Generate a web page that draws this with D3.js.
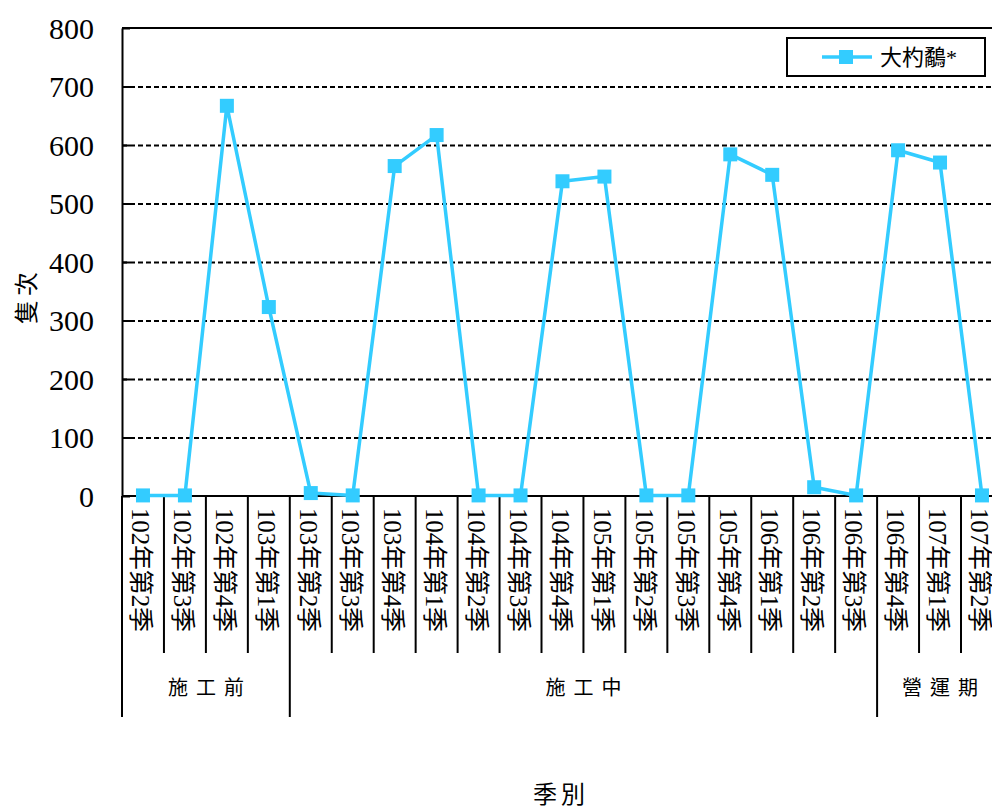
<!DOCTYPE html>
<html><head><meta charset="utf-8">
<script src="https://cdn.jsdelivr.net/npm/d3@7"></script>
<style>
body{margin:0;background:#fff;}
svg{display:block;}
.serif{font-family:"Liberation Serif","Tinos","Times New Roman","DejaVu Serif",serif;}
.cjk{font-family:"Liberation Serif","Tinos","Times New Roman","Noto Sans CJK TC",serif;}
</style></head>
<body>
<script>
const categories = ["102年第2季","102年第3季","102年第4季","103年第1季","103年第2季","103年第3季","103年第4季","104年第1季","104年第2季","104年第3季","104年第4季","105年第1季","105年第2季","105年第3季","105年第4季","106年第1季","106年第2季","106年第3季","106年第4季","107年第1季","107年第2季"];
const seriesName = "大杓鷸*";
const values = [1,1,667,323,5,1,564,617,1,1,538,546,1,1,584,549,15,1,591,570,1];
const yTicks = [0,100,200,300,400,500,600,700,800];
const groups = [
  {name:"施工前", start:"102年第2季", end:"103年第1季"},
  {name:"施工中", start:"103年第2季", end:"106年第3季"},
  {name:"營運期", start:"106年第4季", end:"107年第2季"}
];
const yTitle = "隻次";
const xTitle = "季別";

(function(){
const W = 992, H = 807;
const mLeft = 122, mTop = 28, mBottom = 496;
const step = 41.95;
const mRight = mLeft + step * categories.length;
const color = "#33CCFF";

const svg = d3.select("body").append("svg").attr("width", W).attr("height", H);

const x = d3.scaleBand().domain(categories).range([mLeft, mRight]).padding(0);
const y = d3.scaleLinear().domain([0, 800]).range([mBottom, mTop]);

// gridlines (dashed)
svg.append("g").attr("transform", `translate(${mLeft},0)`)
  .call(d3.axisLeft(y).tickValues(yTicks.filter(v => v > 0 && v < 800)).tickSize(-(mRight - mLeft)).tickFormat(""))
  .call(g => g.select(".domain").remove())
  .call(g => g.selectAll("line").attr("stroke", "#000").attr("stroke-width", 2).attr("stroke-dasharray", "5,3"));

// top border
svg.append("line").attr("x1", mLeft).attr("x2", mRight).attr("y1", y(800)).attr("y2", y(800))
  .attr("stroke", "#000").attr("stroke-width", 2);

// y axis
const yAxis = svg.append("g").attr("transform", `translate(${mLeft},0)`)
  .call(d3.axisLeft(y).tickValues(yTicks).tickSizeInner(-8).tickSizeOuter(0).tickPadding(28));
yAxis.attr("font-family", null).attr("font-size", null);
yAxis.select(".domain").attr("stroke", "#000").attr("stroke-width", 2);
yAxis.selectAll(".tick line").attr("stroke", "#000").attr("stroke-width", 2);
yAxis.selectAll("text").attr("class", "serif").style("font-size", "30px").style("font-weight", "normal")
  .attr("fill", "#000").attr("dy", "0.34em");

// x axis baseline
svg.append("line").attr("x1", mLeft).attr("x2", mRight).attr("y1", mBottom).attr("y2", mBottom)
  .attr("stroke", "#000").attr("stroke-width", 2);

// category tick lines
const boundaries = categories.map(c => x(c)).concat([x(categories[categories.length - 1]) + x.bandwidth()]);
const groupEdges = new Set(groups.map(g => x(g.start)));
svg.append("g").selectAll("line").data(boundaries).join("line")
  .attr("x1", d => d).attr("x2", d => d)
  .attr("y1", mBottom).attr("y2", d => groupEdges.has(d) ? 717 : 653)
  .attr("stroke", "#000").attr("stroke-width", 2);

// category labels (vertical)
svg.append("g").selectAll("text").data(categories).join("text")
  .attr("class", "cjk")
  .attr("transform", d => `translate(${x(d) + x.bandwidth() / 2 - 2},508) rotate(90)`)
  .attr("dy", "0.35em")
  .style("font-size", "25px").attr("fill", "#000")
  .attr("textLength", 124).attr("lengthAdjust", "spacing")
  .text(d => d);

// group labels
svg.append("g").selectAll("text").data(groups).join("text")
  .attr("class", "cjk")
  .attr("x", d => (x(d.start) + x(d.end) + x.bandwidth()) / 2)
  .attr("y", 695)
  .attr("text-anchor", "middle")
  .style("font-size", "20px").attr("fill", "#000")
  .attr("textLength", 76).attr("lengthAdjust", "spacing")
  .text(d => d.name);

// axis titles
svg.append("text").attr("class", "cjk").attr("x", 559).attr("y", 803).attr("text-anchor", "middle")
  .style("font-size", "24px").attr("fill", "#000")
  .attr("textLength", 52).attr("lengthAdjust", "spacing").text(xTitle);
svg.append("text").attr("class", "cjk").attr("transform", "translate(35,298) rotate(-90)").attr("text-anchor", "middle")
  .style("font-size", "24px").attr("fill", "#000")
  .attr("textLength", 52).attr("lengthAdjust", "spacing").text(yTitle);

// line
const data = categories.map((c, i) => ({c, v: values[i]}));
const line = d3.line().x(d => x(d.c) + x.bandwidth() / 2).y(d => y(d.v));
svg.append("path").datum(data).attr("d", line)
  .attr("fill", "none").attr("stroke", color).attr("stroke-width", 3.5).attr("stroke-linejoin", "round");
const ms = 14;
svg.append("g").selectAll("rect").data(data).join("rect")
  .attr("x", d => x(d.c) + x.bandwidth() / 2 - ms / 2)
  .attr("y", d => y(d.v) - ms / 2)
  .attr("width", ms).attr("height", ms).attr("fill", color);

// legend
const lg = svg.append("g");
lg.append("rect").attr("x", 787).attr("y", 38).attr("width", 198).attr("height", 38)
  .attr("fill", "#fff").attr("stroke", "#000").attr("stroke-width", 2);
lg.append("line").attr("x1", 822).attr("x2", 872).attr("y1", 57).attr("y2", 57)
  .attr("stroke", color).attr("stroke-width", 3.5);
lg.append("rect").attr("x", 846 - 7).attr("y", 57 - 7).attr("width", 14).attr("height", 14).attr("fill", color);
lg.append("text").attr("class", "cjk").attr("x", 880).attr("y", 65).style("font-size", "22px").attr("fill", "#000")
  .text(seriesName);
})();
</script>
</body></html>
